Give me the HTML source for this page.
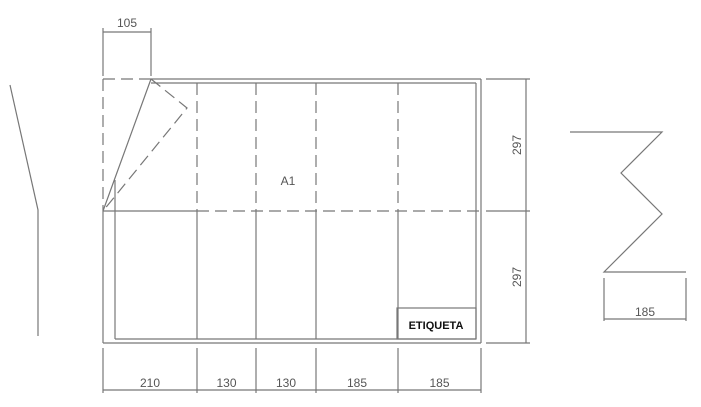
<!DOCTYPE html>
<html><head><meta charset="utf-8"><style>
html,body{margin:0;padding:0;background:#fff;width:701px;height:407px;overflow:hidden}
text{font-family:"Liberation Sans",sans-serif;fill:#555}
</style></head><body>
<svg width="701" height="407" viewBox="0 0 701 407">
<g stroke="#777" stroke-width="1.2" fill="none">
<polyline points="10,85 38,210 38,336"/>
<line x1="103" y1="79" x2="151" y2="79" stroke-dasharray="12,6"/>
<line x1="151" y1="79" x2="481" y2="79"/>
<line x1="151" y1="83" x2="476" y2="83"/>
<line x1="103" y1="79" x2="103" y2="211" stroke-dasharray="12,6"/>
<line x1="103" y1="211" x2="103" y2="343"/>
<line x1="115" y1="211" x2="115" y2="339"/>
<line x1="481" y1="79" x2="481" y2="343"/>
<line x1="476" y1="83" x2="476" y2="339"/>
<line x1="103" y1="343" x2="481" y2="343"/>
<line x1="115" y1="339" x2="476" y2="339"/>
<line x1="103" y1="211" x2="197" y2="211"/>
<line x1="197" y1="211" x2="481" y2="211" stroke-dasharray="12,6"/>
<line x1="486" y1="211" x2="530" y2="211"/>
<line x1="486" y1="79" x2="530" y2="79"/>
<line x1="486" y1="343" x2="530" y2="343"/>
<polyline points="151,79 187,108 103,211" stroke-dasharray="12,6"/>
<line x1="151" y1="79" x2="103" y2="211"/>
<line x1="115" y1="180" x2="115" y2="211"/>
<rect x="397" y="308" width="79" height="31"/>
<line x1="103" y1="32" x2="151" y2="32"/>
<line x1="103" y1="28" x2="103" y2="76"/>
<line x1="151" y1="28" x2="151" y2="76"/>
<line x1="526" y1="79" x2="526" y2="343"/>
<line x1="103" y1="390" x2="481" y2="390"/>
<polyline points="570,132 662,132 621,173 662,214 604,272 686,272"/>
<line x1="604" y1="278" x2="604" y2="321"/>
<line x1="686" y1="278" x2="686" y2="321"/>
<line x1="604" y1="319" x2="686" y2="319"/>
</g>
<g stroke="#777" stroke-width="1.2" stroke-dasharray="12,6" id="vd"></g>
<g stroke="#777" stroke-width="1.2" id="bt"></g>
<g id="lab"></g>
<text x="127" y="27" font-size="12" text-anchor="middle">105</text>
<text x="288" y="185" font-size="12" text-anchor="middle">A1</text>
<text x="436" y="329" font-size="11" font-weight="bold" text-anchor="middle" style="fill:#111">ETIQUETA</text>
<text transform="translate(521,145) rotate(-90)" font-size="12" text-anchor="middle">297</text>
<text transform="translate(521,277) rotate(-90)" font-size="12" text-anchor="middle">297</text>
<text x="645" y="316" font-size="12" text-anchor="middle">185</text>
<script>
const folds=[197,256,316,398];
const widths=["210","130","130","185","185"];
const edges=[103,197,256,316,398,481];
const ns="http://www.w3.org/2000/svg";
const vd=document.getElementById('vd'),bt=document.getElementById('bt'),lab=document.getElementById('lab');
folds.forEach((x,i)=>{
 const t=document.createElementNS(ns,'line');
 t.setAttribute('x1',x);t.setAttribute('x2',x);t.setAttribute('y1',83);t.setAttribute('y2',211);
 
 
 vd.appendChild(t);
 const b=document.createElementNS(ns,'line');
 b.setAttribute('x1',x);b.setAttribute('x2',x);b.setAttribute('y1',211);b.setAttribute('y2',339);
 
 
 bt.appendChild(b);
});
edges.forEach((x,i)=>{
 const e=document.createElementNS(ns,'line');
 e.setAttribute('x1',x);e.setAttribute('x2',x);e.setAttribute('y1',348);e.setAttribute('y2',393);
 
 
 bt.appendChild(e);
});
widths.forEach((w,i)=>{
 const t=document.createElementNS(ns,'text');
 t.setAttribute('x',(edges[i]+edges[i+1])/2);t.setAttribute('y',387);
 t.setAttribute('font-size','12');t.setAttribute('text-anchor','middle');
 
 
 t.textContent=w;lab.appendChild(t);
});
</script>
</svg>
</body></html>
